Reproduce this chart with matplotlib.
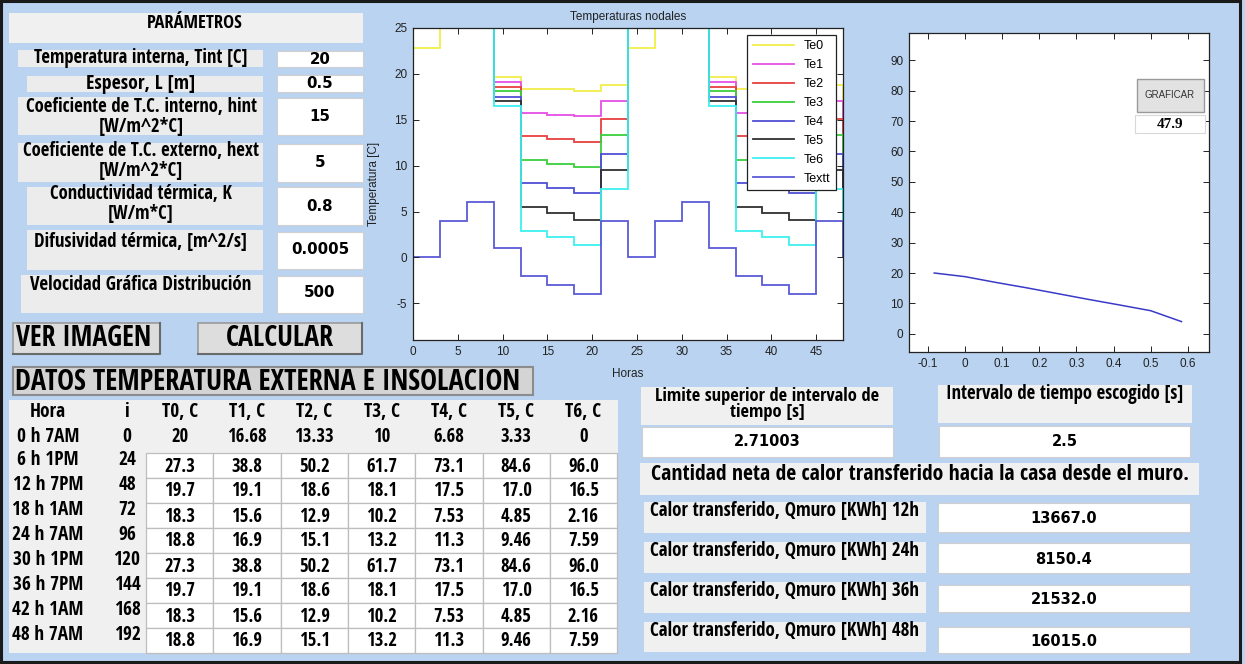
import matplotlib
matplotlib.use("Agg")
import matplotlib.pyplot as plt
from matplotlib.patches import Rectangle

plt.rcParams["axes.unicode_minus"] = False

W, H = 1245, 664

# ---- datos de la grafica nodal (escalones de 3 h) ----
horas = [0, 3, 6, 9, 12, 15, 18, 21, 24, 27, 30, 33, 36, 39, 42, 45, 48]
Te0 = [22.8, 27.3, 27.0, 19.7, 18.4, 18.3, 18.1, 18.8, 22.8, 27.3, 27.0, 19.7, 18.4, 18.3, 18.1, 18.8]
Te1 = [29.0, 38.8, 35.0, 19.1, 15.7, 15.5, 15.4, 17.0, 29.0, 38.8, 35.0, 19.1, 15.7, 15.5, 15.4, 17.0]
Te2 = [35.0, 50.2, 45.0, 18.6, 13.2, 12.9, 12.6, 15.1, 35.0, 50.2, 45.0, 18.6, 13.2, 12.9, 12.6, 15.1]
Te3 = [41.0, 61.7, 55.0, 18.1, 10.6, 10.2, 9.8, 13.3, 41.0, 61.7, 55.0, 18.1, 10.6, 10.2, 9.8, 13.3]
Te4 = [47.0, 73.1, 65.0, 17.5, 8.1, 7.6, 7.0, 11.3, 47.0, 73.1, 65.0, 17.5, 8.1, 7.6, 7.0, 11.3]
Te5 = [53.0, 84.6, 75.0, 17.0, 5.5, 4.8, 4.1, 9.5, 53.0, 84.6, 75.0, 17.0, 5.5, 4.8, 4.1, 9.5]
Te6 = [59.0, 96.0, 85.0, 16.5, 2.9, 2.2, 1.4, 7.5, 59.0, 96.0, 85.0, 16.5, 2.9, 2.2, 1.4, 7.5]
Textt = [0, 4, 6, 1, -2, -3, -4, 4, 0, 4, 6, 1, -2, -3, -4, 4]
series = [Te0, Te1, Te2, Te3, Te4, Te5, Te6, Textt]
nombres = ["Te0", "Te1", "Te2", "Te3", "Te4", "Te5", "Te6", "Textt"]
colores = ["#f2ee4a", "#e64fe6", "#e84040", "#3ccf3c", "#4f4fd6", "#303030", "#3ef0f0", "#5a5ad8"]

# ---- distribucion en el muro (48 h) ----
posicion = [-0.083, 0.0, 0.083, 0.167, 0.25, 0.333, 0.417, 0.5, 0.583]
temp_muro = [20, 18.8, 16.9, 15.1, 13.2, 11.3, 9.46, 7.59, 4.0]

# ---- parametros ----
param_lbl = ["Temperatura interna, Tint [C]", "Espesor, L [m]",
             "Coeficiente de T.C. interno, hint\n[W/m^2*C]",
             "Coeficiente de T.C. externo, hext\n[W/m^2*C]",
             "Conductividad térmica, K\n[W/m*C]",
             "Difusividad térmica, [m^2/s]", "Velocidad Gráfica Distribución"]
param_val = ["20", "0.5", "15", "5", "0.8", "0.0005", "500"]

# ---- tabla ----
cols = ["Hora", "i", "T0, C", "T1, C", "T2, C", "T3, C", "T4, C", "T5, C", "T6, C"]
fila0 = ["0 h 7AM", "0", "20", "16.68", "13.33", "10", "6.68", "3.33", "0"]
hora_lbl = ["6 h 1PM", "12 h 7PM", "18 h 1AM", "24 h 7AM", "30 h 1PM", "36 h 7PM", "42 h 1AM", "48 h 7AM"]
idx = ["24", "48", "72", "96", "120", "144", "168", "192"]
tabla = [["27.3", "38.8", "50.2", "61.7", "73.1", "84.6", "96.0"],
         ["19.7", "19.1", "18.6", "18.1", "17.5", "17.0", "16.5"],
         ["18.3", "15.6", "12.9", "10.2", "7.53", "4.85", "2.16"],
         ["18.8", "16.9", "15.1", "13.2", "11.3", "9.46", "7.59"],
         ["27.3", "38.8", "50.2", "61.7", "73.1", "84.6", "96.0"],
         ["19.7", "19.1", "18.6", "18.1", "17.5", "17.0", "16.5"],
         ["18.3", "15.6", "12.9", "10.2", "7.53", "4.85", "2.16"],
         ["18.8", "16.9", "15.1", "13.2", "11.3", "9.46", "7.59"]]

calor_lbl = ["Calor transferido, Qmuro [KWh] 12h", "Calor transferido, Qmuro [KWh] 24h",
             "Calor transferido, Qmuro [KWh] 36h", "Calor transferido, Qmuro [KWh] 48h"]
calor_val = ["13667.0", "8150.4", "21532.0", "16015.0"]

BG = "#b9d3f0"
GRIS = "#f0f0f0"
COND = ["Open Sans Condensed", "Liberation Sans", "DejaVu Sans"]
NUM = ["DejaVu Sans"]

fig = plt.figure(figsize=(W / 100, H / 100), dpi=100, facecolor=BG)
rend = fig.canvas.get_renderer()


def box(x0, y0, x1, y1, fc, ec="none", lw=0, z=1):
    fig.patches.append(Rectangle((x0 / W, 1 - y1 / H), (x1 - x0) / W, (y1 - y0) / H,
                                 transform=fig.transFigure, facecolor=fc,
                                 edgecolor=ec, linewidth=lw, zorder=z))


def txt(x, y, s, size, fam=COND, weight="bold", z=3, ancho=None, **kw):
    t = fig.text(x / W, 1 - y / H, s, fontsize=size, family=fam, weight=weight,
                 ha="center", va="center", zorder=z, **kw)
    if ancho:
        # ajustar el tamaño al ancho visto en la captura
        w = t.get_window_extent(renderer=rend).width
        t.set_fontsize(size * ancho / w)
    return t


def size_for(s, ancho, fam=COND):
    t = txt(0, 0, s, 10, fam=fam, ancho=ancho)
    sz = t.get_fontsize()
    t.remove()
    return sz


def button(x0, y0, x1, y1, fc="#dddddd"):
    box(x0, y0, x1, y1, fc, "#9a9a9a", 1.2)
    fig.lines.append(plt.Line2D([x0 / W, x1 / W, x1 / W], [1 - y1 / H, 1 - y1 / H, 1 - y0 / H],
                                transform=fig.transFigure, color="#6a6a6a", lw=1.5, zorder=2))


# marco
box(1, 1, 1240, 662, "none", "#1a1a1a", 2.2, z=5)

# ---- panel de parametros ----
box(9, 13, 363, 43, GRIS)
txt(195, 23, "PARÁMETROS", 12, ancho=95)
lbl_box = [(18, 50, 67), (27, 76, 92), (18, 97, 135), (18, 143, 182), (27, 187, 225), (27, 230, 270), (21, 275, 313)]
val_box = [(51, 67), (75, 92), (98, 135), (144, 182), (187, 225), (232, 269), (276, 313)]
lbl_y = [58.5, 83.5, 117, 161, 204, 242, 285]
val_y = [59, 83.5, 116.5, 163, 206, 250, 293]
lbl_w = [215, 109, 233, 237, 183, 213, 222]
for k in range(len(param_lbl)):
    x0, y0, y1 = lbl_box[k]
    box(x0, y0, 263, y1, "#ececec")
    box(277, val_box[k][0], 363, val_box[k][1], "white", "#d0d0d0", 0.8)
    txt(141, lbl_y[k], param_lbl[k], 11, ancho=lbl_w[k], linespacing=0.95)
    txt(320, val_y[k], param_val[k], 10.8, fam=NUM)

button(13, 323, 160, 354)
txt(84, 339, "VER IMAGEN", 16, ancho=135)
button(198, 323, 362, 354)
txt(280, 339, "CALCULAR", 16, ancho=108)

# ---- tabla ----
box(13, 367, 533, 395, "#d4d4d4", "#8c8c8c", 1.5)
txt(268, 382, "DATOS TEMPERATURA EXTERNA E INSOLACION", 16, ancho=505)
box(9, 400, 618, 653, GRIS)
sz_lbl = size_for("12 h 7PM", 70)
sz_num = size_for("16.68", 40)
col_x = [48, 127] + [146 + 67.3 * (k + 0.5) for k in range(7)]
for c, s in enumerate(cols):
    txt(col_x[c], 412, s, sz_lbl)
for c, s in enumerate(fila0):
    txt(col_x[c], 437.5, s, sz_lbl if c < 2 else sz_num)
for r in range(len(tabla)):
    ytop = 453 + 25 * r
    txt(col_x[0], ytop + 7, hora_lbl[r], sz_lbl)
    txt(col_x[1], ytop + 7, idx[r], sz_lbl)
    for c in range(7):
        box(146 + 67.3 * c, ytop, 146 + 67.3 * (c + 1), ytop + 25, "white", "#bdbdbd", 0.9)
        txt(col_x[c + 2], ytop + 13.5, tabla[r][c], sz_num)

# ---- panel inferior derecho ----
box(641, 387, 893, 425, GRIS)
txt(767, 404, "Limite superior de intervalo de\ntiempo [s]", 11, ancho=224, linespacing=0.92)
box(642, 427, 893, 457, "white", "#d0d0d0", 0.8)
txt(767, 442, "2.71003", 10.5, fam=NUM)
box(938, 385, 1192, 423, GRIS)
txt(1065, 394, "Intervalo de tiempo escogido [s]", 11, ancho=238)
box(939, 426, 1190, 457, "white", "#d0d0d0", 0.8)
txt(1065, 441, "2.5", 10.5, fam=NUM)
box(640, 463, 1199, 495, GRIS)
txt(920, 474, "Cantidad neta de calor transferido hacia la casa desde el muro.", 13, ancho=534)
calor_box = [(502, 533, 503, 532), (542, 573, 543, 573), (582, 613, 585, 612), (622, 652, 627, 653)]
for k in range(4):
    a0, a1, b0, b1 = calor_box[k]
    box(644, a0, 926, a1, GRIS)
    txt(785, a0 + 9, calor_lbl[k], 11, ancho=269)
    box(938, b0, 1190, b1, "white", "#d0d0d0", 0.8)
    txt(1064, (b0 + b1) / 2 + 1, calor_val[k], 10.5, fam=NUM)

# ---- grafica principal ----
ax = fig.add_axes([413 / W, 1 - 340 / H, 430 / W, 312 / H])
for vals, nom, col in zip(series, nombres, colores):
    ax.stairs(vals, horas, color=col, lw=1.3, label=nom)
ax.set_xlim(0, 48)
ax.set_ylim(-9, 25)
ax.set_xticks(range(0, 50, 5))
ax.set_yticks(range(-5, 30, 5))
ax.set_title("Temperaturas nodales", fontsize=8.5, family="Liberation Sans", color="#222", pad=6)
ax.set_xlabel("Horas", fontsize=8.5, family="Liberation Sans", color="#222")
ax.set_ylabel("Temperatura [C]", fontsize=8.5, family="Liberation Sans", color="#222")
ax.xaxis.set_label_coords(0.5, -0.09)
ax.yaxis.set_label_coords(-0.077, 0.5)
leg = ax.legend(loc="upper right", bbox_to_anchor=(0.984, 0.978), fancybox=False,
                edgecolor="#222", framealpha=1, handlelength=3.3,
                labelspacing=0.55, borderaxespad=0, borderpad=0.45,
                prop={"family": "Liberation Sans", "size": 9})
leg.get_frame().set_linewidth(0.9)

# ---- grafica distribucion ----
ax2 = fig.add_axes([909 / W, 1 - 352 / H, 300 / W, 319 / H])
ax2.plot(posicion, temp_muro, color="#3a3ac8", lw=1.1)
ax2.set_xlim(-0.151, 0.657)
ax2.set_ylim(-6, 99)
ax2.set_xticks([-0.1, 0, 0.1, 0.2, 0.3, 0.4, 0.5, 0.6])
ax2.set_xticklabels(["-0.1", "0", "0.1", "0.2", "0.3", "0.4", "0.5", "0.6"])
ax2.set_yticks(range(0, 100, 10))

for a in (ax, ax2):
    a.set_facecolor("white")
    a.tick_params(direction="in", top=True, right=True, length=4, width=0.7,
                  labelsize=8.5, colors="#222", pad=4)
    for lab in a.get_xticklabels() + a.get_yticklabels():
        lab.set_family("Liberation Sans")
    for sp in a.spines.values():
        sp.set_color("#222")
        sp.set_linewidth(0.9)

# boton y valor sobre la grafica
box(1137, 79, 1204, 112, "#e2e2e2", "#9a9a9a", 1.0, z=6)
txt(1170, 95.5, "GRAFICAR", 7, fam=["Liberation Sans"], weight="normal", z=7, color="#333")
box(1135, 115, 1205, 133, "white", "#d8d8d8", 0.8, z=6)
txt(1170, 124, "47.9", 11, fam=["Liberation Serif"], z=7)

fig.savefig("out.png", dpi=100, facecolor=BG)
